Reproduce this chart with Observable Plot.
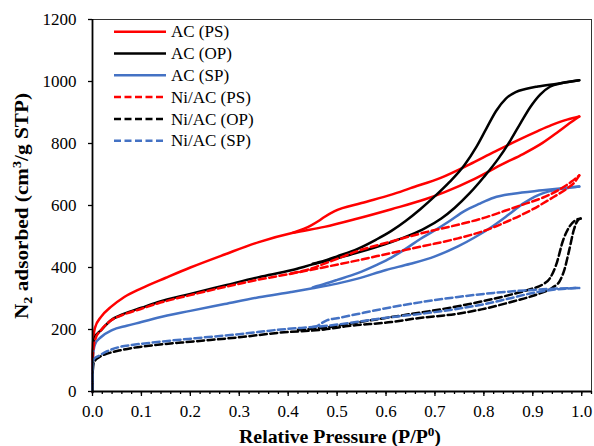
<!DOCTYPE html>
<html><head><meta charset="utf-8">
<script src="https://cdn.jsdelivr.net/npm/d3@7"></script>
<script src="https://cdn.jsdelivr.net/npm/@observablehq/plot@0.6"></script>
<style>
body{margin:0;background:#fff}
#chart{width:594px;height:446px}
#chart svg text, #chart svg tspan{font-family:"Liberation Serif","Times New Roman",serif !important;}
</style>
</head><body><div id="chart"></div>
<script>
// ---- data (relative pressure, N2 adsorbed) ----
const seriesNames = ["AC (PS)", "AC (OP)", "AC (SP)", "Ni/AC (PS)", "Ni/AC (OP)", "Ni/AC (SP)"];
const xTicks = [0, 0.1, 0.2, 0.3, 0.4, 0.5, 0.6, 0.7, 0.8, 0.9, 1.0];
const xMinorTicks = [0,0.02,0.04,0.06,0.08,0.1,0.12,0.14,0.16,0.18,0.2,0.22,0.24,0.26,0.28,0.3,0.32,0.34,0.36,0.38,0.4,0.42,0.44,0.46,0.48,0.5,0.52,0.54,0.56,0.58,0.6,0.62,0.64,0.66,0.68,0.7,0.72,0.74,0.76,0.78,0.8,0.82,0.84,0.86,0.88,0.9,0.92,0.94,0.96,0.98,1.0,1.02];
const yTicks = [0, 200, 400, 600, 800, 1000, 1200];

const acPS_ads = [[0,0],[0.0006,140],[0.002,175],[0.005,205],[0.017,240],[0.037,272],[0.065,305],[0.1,333],[0.15,367],[0.2,400],[0.27,442],[0.34,482],[0.41,512],[0.474,531],[0.542,558],[0.611,588],[0.68,620],[0.72,643],[0.78,685],[0.84,735],[0.88,766],[0.92,802],[0.952,838],[0.975,865],[0.995,887]];
const acPS_des = [[0.41,512],[0.447,536],[0.462,550],[0.474,563],[0.495,582],[0.55,608],[0.611,635],[0.65,656],[0.713,690],[0.77,732],[0.82,772],[0.87,811],[0.91,840],[0.938,859],[0.97,877],[0.995,887]];

const acOP_ads = [[0,0],[0.0006,120],[0.002,150],[0.005,175],[0.017,197],[0.037,229],[0.065,251],[0.1,270],[0.133,288],[0.2,315],[0.27,342],[0.34,369],[0.406,391],[0.45,410],[0.5,430],[0.542,448],[0.58,466],[0.611,482],[0.65,505],[0.679,526],[0.713,558],[0.74,592],[0.77,638],[0.8,692],[0.83,752],[0.855,812],[0.875,866],[0.895,918],[0.915,958],[0.935,983],[0.96,995],[0.995,1004]];
const acOP_des = [[0.45,412],[0.474,422],[0.5,436],[0.542,460],[0.58,490],[0.611,518],[0.64,550],[0.67,588],[0.7,630],[0.73,676],[0.76,730],[0.785,790],[0.805,848],[0.825,905],[0.845,945],[0.865,966],[0.885,976],[0.91,984],[0.95,993],[0.995,1004]];

const acSP_ads = [[0,0],[0.0006,100],[0.002,130],[0.006,155],[0.017,175],[0.04,198],[0.07,212],[0.1,224],[0.133,238],[0.2,260],[0.27,282],[0.34,304],[0.406,321],[0.45,333],[0.5,348],[0.542,364],[0.6,392],[0.65,412],[0.7,436],[0.747,468],[0.78,496],[0.815,530],[0.85,570],[0.88,606],[0.91,633],[0.94,648],[0.97,656],[0.995,661]];
const acSP_des = [[0.45,336],[0.474,347],[0.5,360],[0.542,382],[0.58,408],[0.611,432],[0.64,460],[0.67,492],[0.7,520],[0.73,550],[0.76,582],[0.79,605],[0.82,625],[0.86,638],[0.92,649],[0.995,661]];

const niPS_ads = [[0,0],[0.0006,100],[0.002,140],[0.006,170],[0.017,197],[0.037,228],[0.065,249],[0.1,267],[0.133,284],[0.2,311],[0.27,337],[0.34,361],[0.406,380],[0.474,401],[0.542,423],[0.611,447],[0.679,470],[0.747,494],[0.8,518],[0.85,550],[0.9,588],[0.94,625],[0.97,655],[0.986,676],[0.995,697]];
const niPS_des = [[0.406,381],[0.44,393],[0.47,410],[0.5,428],[0.542,453],[0.611,484],[0.679,513],[0.747,538],[0.8,560],[0.843,583],[0.88,603],[0.92,625],[0.955,652],[0.98,678],[0.995,697]];

const niOP_ads = [[0,0],[0.0008,70],[0.003,95],[0.014,111],[0.03,122],[0.054,132],[0.08,140],[0.123,149],[0.211,162],[0.3,175],[0.385,190],[0.474,200],[0.522,211],[0.611,224],[0.658,235],[0.747,251],[0.795,265],[0.863,292],[0.91,314],[0.94,335],[0.955,356],[0.965,395],[0.975,460],[0.984,522],[0.992,552],[0.998,558]];
const niOP_des = [[0.42,199],[0.474,206],[0.5,212],[0.55,225],[0.611,240],[0.65,250],[0.7,262],[0.747,275],[0.8,292],[0.849,310],[0.895,330],[0.92,345],[0.935,365],[0.948,410],[0.962,488],[0.975,532],[0.988,553],[0.998,558]];

const niSP_ads = [[0,0],[0.0008,85],[0.003,105],[0.014,116],[0.03,130],[0.054,143],[0.08,150],[0.123,158],[0.211,172],[0.3,185],[0.385,200],[0.45,208],[0.474,211],[0.542,225],[0.611,240],[0.679,252],[0.747,267],[0.795,280],[0.849,299],[0.9,318],[0.93,326],[0.96,331],[0.995,334]];
const niSP_des = [[0.45,208],[0.46,212],[0.47,222],[0.48,230],[0.5,236],[0.542,250],[0.611,272],[0.679,290],[0.747,305],[0.82,318],[0.883,326],[0.95,332],[0.995,334]];

const colors = ["#FF0000", "#000000", "#4472C4", "#FF0000", "#000000", "#4472C4"];
const dashed = [false, false, false, true, true, true];
const branches = [[acPS_ads, acPS_des],[acOP_ads, acOP_des],[acSP_ads, acSP_des],[niPS_ads, niPS_des],[niOP_ads, niOP_des],[niSP_ads, niSP_des]];

// ---- build table ----
const rows = [];
branches.forEach((pair, i) => pair.forEach((arr, b) => arr.forEach(([x, y]) => rows.push({x, y, s: i, key: i + "-" + b}))));

const lineMarks = seriesNames.map((name, i) => Plot.line(rows.filter(d => d.s === i), {
  x: "x", y: "y", z: "key", stroke: colors[i], strokeWidth: 2.5,
  strokeDasharray: dashed[i] ? "7,3.5" : null, curve: "monotone-x"
}));

const plot = Plot.plot({
  width: 594, height: 446,
  marginLeft: 92, marginRight: 3, marginTop: 19, marginBottom: 55,
  style: {fontFamily: "Liberation Serif", fontSize: "17px", color: "#000", background: "#fff"},
  x: {domain: [0, 1.02]},
  y: {domain: [0, 1200]},
  marks: [
    Plot.frame({stroke: "#333", strokeWidth: 1}),
    ...lineMarks,
    Plot.axisX(xMinorTicks, {tickSize: 3, text: null, strokeWidth: 1.3, label: null}),
    Plot.axisX(xTicks, {tickSize: 5, strokeWidth: 1.3, tickPadding: 8.5, tickFormat: d3.format(".1f"), fontSize: 17, label: null}),
    Plot.axisY(yTicks, {tickSize: 4, strokeWidth: 1.3, tickPadding: 12, tickFormat: d => String(d), fontSize: 17, label: null}),
    Plot.ruleX([0], {stroke: "#000", strokeWidth: 1.8}),
    Plot.ruleY([0], {stroke: "#000", strokeWidth: 1.8})
  ]
});
document.getElementById("chart").appendChild(plot);

// ---- axis titles and legend ----
const svg = d3.select(plot);
const yt = svg.append("text").attr("transform", "translate(28,206) rotate(-90)")
  .attr("text-anchor", "middle").attr("font-size", 18).attr("font-weight", "bold").attr("fill", "#000")
  .attr("textLength", 226).attr("lengthAdjust", "spacingAndGlyphs");
yt.append("tspan").text("N");
yt.append("tspan").attr("font-size", 12).attr("dy", 4).text("2");
yt.append("tspan").attr("dy", -4).text(" adsorbed (cm");
yt.append("tspan").attr("font-size", 12).attr("dy", -7).text("3");
yt.append("tspan").attr("dy", 7).text("/g STP)");

const xt = svg.append("text").attr("x", 340).attr("y", 443)
  .attr("text-anchor", "middle").attr("font-size", 18).attr("font-weight", "bold").attr("fill", "#000")
  .attr("textLength", 202).attr("lengthAdjust", "spacingAndGlyphs");
xt.append("tspan").text("Relative Pressure (P/P");
xt.append("tspan").attr("font-size", 12).attr("dy", -7).text("0");
xt.append("tspan").attr("dy", 7).text(")");

const lg = svg.append("g");
seriesNames.forEach((name, i) => {
  const yy = 31.7 + i * 21.8;
  lg.append("line").attr("x1", 114).attr("x2", 166).attr("y1", yy).attr("y2", yy)
    .attr("stroke", colors[i]).attr("stroke-width", 2.5).attr("stroke-dasharray", dashed[i] ? "7,3.5" : null);
  lg.append("text").attr("x", 171).attr("y", yy).attr("dy", "0.34em").attr("text-anchor", "start")
    .attr("font-size", 17).attr("fill", "#000").text(name);
});
</script></body></html>
